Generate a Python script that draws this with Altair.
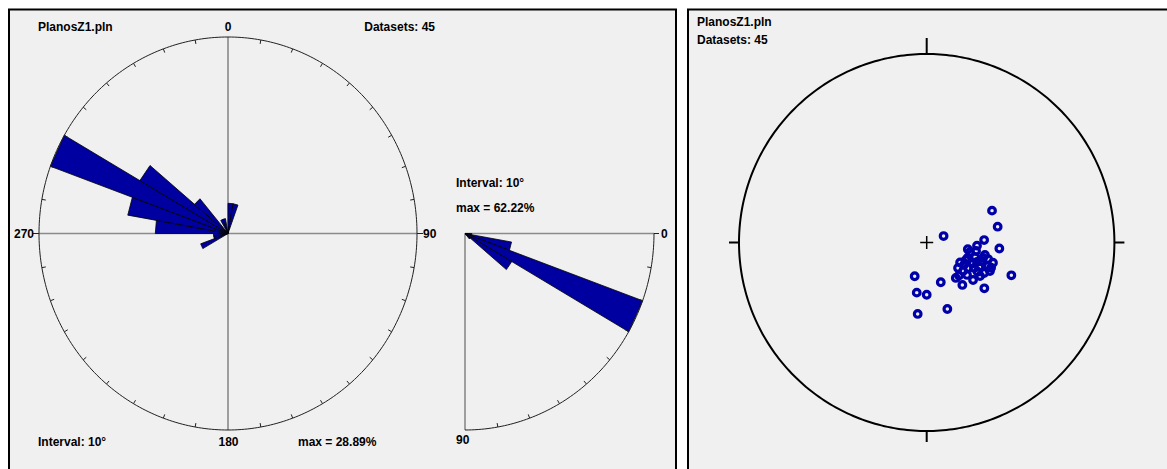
import numpy as np
import pandas as pd
import altair as alt

# ---------------- data ----------------
file_name = "PlanosZ1.pln"
n_data = 45
interval = 10

# rose diagram of strikes: bin start (deg) and counts
rose_bin_start = [0, 10, 240, 250, 260, 270, 280, 290, 300, 310, 330, 340]
rose_counts = [2, 2, 2, 1, 1, 5, 7, 13, 7, 3, 1, 1]

# dip histogram (quarter rose): bin start (deg) and counts
dip_bin_start = [0, 10, 20, 30, 40]
dip_counts = [1, 7, 28, 8, 1]

# poles on the equal-area net, normalised net coordinates (east, north)
pole_x = [0.348, 0.378, 0.090, 0.306, 0.268, 0.219, 0.387, 0.310, 0.258, 0.219,
          0.178, 0.290, 0.353, 0.245, 0.200, 0.326, 0.343, 0.281, 0.194, 0.271,
          0.306, 0.172, 0.155, -0.064, 0.451, 0.247, 0.075, 0.190, 0.307, -0.053,
          0.000, 0.110, -0.048, 0.231, 0.263, 0.209, 0.300, 0.327, 0.252, 0.220,
          0.284, 0.337, 0.215, 0.167, 0.268]
pole_y = [0.169, 0.084, 0.034, 0.013, -0.017, -0.036, -0.032, -0.066, -0.077, -0.081,
          -0.106, -0.099, -0.107, -0.112, -0.117, -0.125, -0.134, -0.131, -0.151, -0.155,
          -0.162, -0.175, -0.188, -0.179, -0.174, -0.199, -0.211, -0.225, -0.243, -0.266,
          -0.277, -0.353, -0.379, -0.050, -0.045, -0.093, -0.082, -0.088, -0.135, -0.135,
          -0.178, -0.151, -0.172, -0.135, -0.103]

# ---------------- layout / style ----------------
W, H = 1167, 469
BLUE = "#0000a0"
MBLUE = "#0000a8"
PANEL = "#f0f0f0"
GRAY = "#8a8a8a"
FONT = "Liberation Sans"

ROSE_C = (228.0, 233.5)
RX, RY = 189.0, 196.5
DIP_C = (465.0, 233.5)
NET_C = (926.7, 242.5)
NRX, NRY = 187.7, 188.5

rmax = max(rose_counts)
dmax = max(dip_counts)


def rose_xy(az, frac):
    a = np.radians(az)
    return ROSE_C[0] + frac * RX * np.sin(a), ROSE_C[1] - frac * RY * np.cos(a)


def dip_xy(d, frac):
    a = np.radians(d)
    return DIP_C[0] + frac * RX * np.cos(a), DIP_C[1] + frac * RY * np.sin(a)


# petals
poly_rows = []
pid = 0
for a, c in zip(rose_bin_start, rose_counts):
    f = c / rmax
    pts = [ROSE_C, rose_xy(a, f), rose_xy(a + interval, f), ROSE_C]
    for k, (x, y) in enumerate(pts):
        poly_rows.append(dict(px=x, py=y, pid=pid, ord=k))
    pid += 1
for a, c in zip(dip_bin_start, dip_counts):
    f = c / dmax
    pts = [DIP_C, dip_xy(a, f), dip_xy(a + interval, f), DIP_C]
    for k, (x, y) in enumerate(pts):
        poly_rows.append(dict(px=x, py=y, pid=pid, ord=k))
    pid += 1
poly_df = pd.DataFrame(poly_rows)

# thin black lines
thin_rows = []
gid = 0


def add_line(rows, pts, g):
    for k, (x, y) in enumerate(pts):
        rows.append(dict(px=float(x), py=float(y), gid=g, ord=k))


t = np.linspace(0, 360, 361)
add_line(thin_rows, [rose_xy(a, 1.0) for a in t], gid); gid += 1
for a in range(10, 360, 10):
    if a % 90 == 0:
        continue
    x0, y0 = rose_xy(a, 1.0)
    ar = np.radians(a)
    add_line(thin_rows, [(x0, y0), (x0 - 4 * np.sin(ar), y0 + 4 * np.cos(ar))], gid); gid += 1
# cardinal outside ticks at 90 / 270
add_line(thin_rows, [rose_xy(90, 1.0), (rose_xy(90, 1.0)[0] + 6, ROSE_C[1])], gid); gid += 1
add_line(thin_rows, [rose_xy(270, 1.0), (rose_xy(270, 1.0)[0] - 6, ROSE_C[1])], gid); gid += 1
# dip arc
td = np.linspace(0, 90, 91)
add_line(thin_rows, [dip_xy(a, 1.0) for a in td], gid); gid += 1
for a in range(10, 90, 10):
    x0, y0 = dip_xy(a, 1.0)
    ar = np.radians(a)
    add_line(thin_rows, [(x0, y0), (x0 - 4 * np.cos(ar), y0 - 4 * np.sin(ar))], gid); gid += 1
add_line(thin_rows, [dip_xy(0, 1.0), (dip_xy(0, 1.0)[0] + 5, DIP_C[1])], gid); gid += 1
thin_df = pd.DataFrame(thin_rows)

# gray axis lines
gray_rows = []
g2 = 0
add_line(gray_rows, [rose_xy(0, 1.0), rose_xy(180, 1.0)], g2); g2 += 1
add_line(gray_rows, [rose_xy(270, 1.0), rose_xy(90, 1.0)], g2); g2 += 1
add_line(gray_rows, [DIP_C, dip_xy(0, 1.0)], g2); g2 += 1
add_line(gray_rows, [DIP_C, dip_xy(90, 1.0)], g2); g2 += 1
gray_df = pd.DataFrame(gray_rows)

# net outline (thick)
net_rows = []
g3 = 0
tt = np.radians(np.linspace(0, 360, 361))
add_line(net_rows, list(zip(NET_C[0] + NRX * np.sin(tt), NET_C[1] - NRY * np.cos(tt))), g3); g3 += 1
add_line(net_rows, [(NET_C[0], NET_C[1] - NRY), (NET_C[0], NET_C[1] - NRY - 16)], g3); g3 += 1
add_line(net_rows, [(NET_C[0], NET_C[1] + NRY), (NET_C[0], NET_C[1] + NRY + 11)], g3); g3 += 1
add_line(net_rows, [(NET_C[0] - NRX, NET_C[1]), (NET_C[0] - NRX - 10, NET_C[1])], g3); g3 += 1
add_line(net_rows, [(NET_C[0] + NRX, NET_C[1]), (NET_C[0] + NRX + 10, NET_C[1])], g3); g3 += 1
net_df = pd.DataFrame(net_rows)

cross_rows = []
add_line(cross_rows, [(NET_C[0] - 6.5, NET_C[1]), (NET_C[0] + 6.5, NET_C[1])], 0)
add_line(cross_rows, [(NET_C[0], NET_C[1] - 6.5), (NET_C[0], NET_C[1] + 6.5)], 1)
cross_df = pd.DataFrame(cross_rows)

pole_df = pd.DataFrame(dict(
    px=NET_C[0] + NRX * np.array(pole_x),
    py=NET_C[1] - NRY * np.array(pole_y)))

panels_df = pd.DataFrame(dict(x=[9.0, 688.0], x2=[676.0, 1200.0], y=[9.5, 9.5], y2=[500.0, 500.0]))

rose_max = f"max = {100 * rmax / n_data:.2f}%"
dip_max = f"max = {100 * dmax / n_data:.2f}%"
left_txt = pd.DataFrame(dict(
    t=[file_name, f"Interval: {interval}°", rose_max, f"Interval: {interval}°", dip_max,
       "0", "90", "90", file_name, f"Datasets: {n_data}"],
    x=[38, 38, 298, 456, 456, 661, 456, 423, 697, 697],
    y=[26.5, 441.5, 441.5, 183, 208, 234, 440, 234, 21.5, 39.5]))
center_txt = pd.DataFrame(dict(t=["0", "180"], x=[228, 228.5], y=[26.5, 441.5]))
right_txt = pd.DataFrame(dict(t=[f"Datasets: {n_data}", "270"], x=[435, 34], y=[26.5, 234]))

# ---------------- chart ----------------
xs = alt.Scale(domain=[0, W], range=[0, W], zero=False, nice=False)
ys = alt.Scale(domain=[0, H], range=[0, H], zero=False, nice=False)
X = lambda f: alt.X(f, type="quantitative", scale=xs, axis=None)
Y = lambda f: alt.Y(f, type="quantitative", scale=ys, axis=None)

panels = alt.Chart(panels_df).mark_rect(fill=PANEL, stroke="black", strokeWidth=2, clip=True).encode(
    x=X("x"), x2="x2", y=Y("y"), y2="y2")

gray = alt.Chart(gray_df).mark_line(color=GRAY, strokeWidth=1.6, clip=True).encode(
    x=X("px"), y=Y("py"), detail="gid:N", order="ord:Q")

petals = alt.Chart(poly_df).mark_line(fill=BLUE, stroke="black", strokeWidth=0.8, clip=True).encode(
    x=X("px"), y=Y("py"), detail="pid:N", order="ord:Q")

thin = alt.Chart(thin_df).mark_line(color="#202020", strokeWidth=1, clip=True).encode(
    x=X("px"), y=Y("py"), detail="gid:N", order="ord:Q")

net = alt.Chart(net_df).mark_line(color="black", strokeWidth=2, clip=True).encode(
    x=X("px"), y=Y("py"), detail="gid:N", order="ord:Q")

cross = alt.Chart(cross_df).mark_line(color="black", strokeWidth=1.5, clip=True).encode(
    x=X("px"), y=Y("py"), detail="gid:N", order="ord:Q")

poles = alt.Chart(pole_df).mark_point(shape="circle", filled=False, size=44, strokeWidth=3.2,
                                      color=MBLUE, opacity=1, clip=True).encode(x=X("px"), y=Y("py"))


def txt(df, align):
    return alt.Chart(df).mark_text(align=align, baseline="middle", font=FONT, fontWeight="bold",
                                   fontSize=12, color="black").encode(x=X("x"), y=Y("y"), text="t:N")


chart = alt.layer(
    panels, gray, petals, thin, net, cross, poles,
    txt(left_txt, "left"), txt(center_txt, "center"), txt(right_txt, "right")
).properties(width=W, height=H, padding=0, autosize="none", background="white"
             ).configure_view(strokeWidth=0)

chart.save("out.html", embed_options={"renderer": "svg", "actions": False})
